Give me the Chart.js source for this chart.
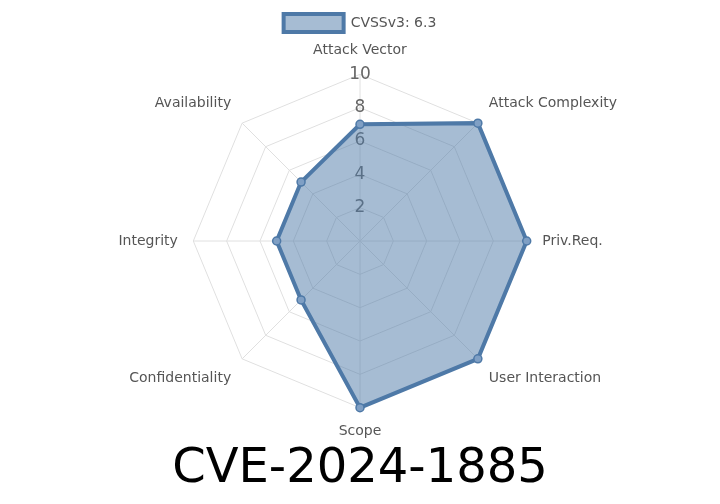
<!DOCTYPE html>
<html>
<head>
<meta charset="utf-8">
<script src="https://cdn.jsdelivr.net/npm/chart.js@4"></script>
<style>
  body { margin: 0; background: #fff; }
  #wrap { width: 720px; height: 504px; }
</style>
</head>
<body>
<div id="wrap"><canvas id="c"></canvas></div>
<script>
// metric names and scores
const labels = ['Attack Vector', 'Attack Complexity', 'Priv.Req.', 'User Interaction', 'Scope', 'Confidentiality', 'Integrity', 'Availability'];
const scores = [7, 10, 10, 10, 10, 5, 5, 5];
const seriesName = 'CVSSv3: 6.3';
const titleText = 'CVE-2024-1885';

Chart.defaults.font.family = 'DejaVu Sans, sans-serif';

new Chart(document.getElementById('c'), {
  type: 'radar',
  data: {
    labels: labels,
    datasets: [{
      label: seriesName,
      data: scores,
      borderColor: '#4e79a7',
      backgroundColor: 'rgba(78,121,167,.5)',
      borderWidth: 4,
      pointBackgroundColor: '#7f9fc4',
      pointBorderColor: '#4e79a7',
      pointBorderWidth: 1.5,
      pointRadius: 4
    }]
  },
  options: {
    responsive: true, maintainAspectRatio: false, animation: false,
    layout: { padding: { top: 4, bottom: 6 } },
    plugins: {
      legend: { position: 'top', labels: { color: '#555', font: { size: 14 }, boxWidth: 60, boxHeight: 18 } },
      title: { display: true, text: titleText, position: 'bottom', color: '#000', font: { size: 48, weight: 'normal' }, padding: { top: 0, bottom: 0 } }
    },
    scales: {
      r: {
        min: 0, max: 10,
        ticks: { stepSize: 2, color: '#666', font: { size: 17 }, backdropColor: 'rgba(255,255,255,0)' },
        grid: { color: '#e0e0e0' },
        angleLines: { color: '#e0e0e0' },
        pointLabels: { color: '#555', font: { size: 14 } }
      }
    }
  }
});
</script>
</body>
</html>
